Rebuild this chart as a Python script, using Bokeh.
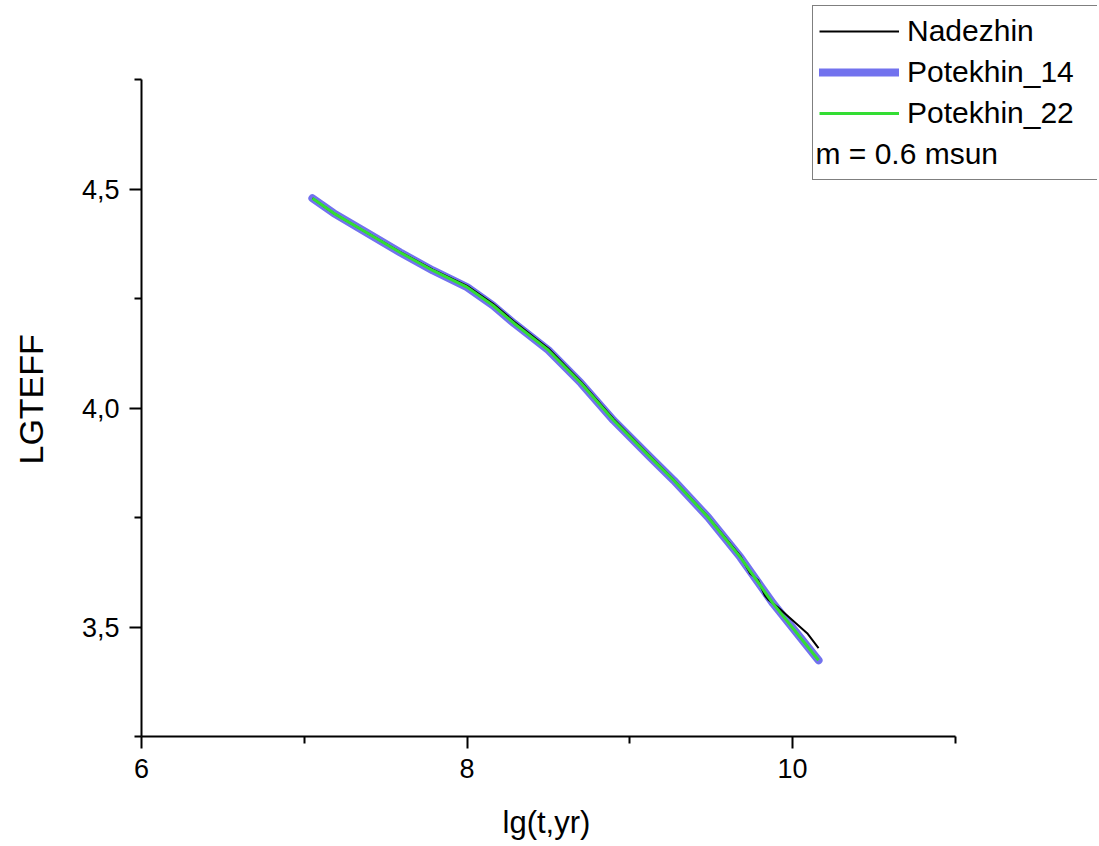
from bokeh.plotting import figure
from bokeh.models import (Range1d, FixedTicker, CustomJSTickFormatter, Legend,
                          LegendItem, Label, Title)
from bokeh.embed import file_html
from bokeh.resources import INLINE

# ---- data ----
nad_x = [7.05, 7.18, 7.39, 7.59, 7.79, 8.00, 8.16, 8.29, 8.50, 8.70, 8.90,
         9.13, 9.27, 9.48, 9.68, 9.74, 9.79, 9.83, 9.85, 9.91, 10.09, 10.16]
nad_y = [4.479, 4.445, 4.399, 4.356, 4.316, 4.279, 4.238, 4.197, 4.136,
         4.060, 3.975, 3.888, 3.836, 3.752, 3.662, 3.622, 3.606, 3.572,
         3.563, 3.545, 3.486, 3.452]

p14_x = [7.05, 7.18, 7.39, 7.59, 7.79, 8.00, 8.16, 8.29, 8.50, 8.70, 8.90,
         9.13, 9.27, 9.48, 9.68, 9.88, 10.16]
p14_y = [4.479, 4.445, 4.399, 4.355, 4.314, 4.276, 4.234, 4.193, 4.132,
         4.057, 3.972, 3.886, 3.835, 3.751, 3.659, 3.554, 3.424]

p22_x = [7.05, 7.18, 7.39, 7.59, 7.79, 8.00, 8.16, 8.29, 8.50, 8.70, 8.90,
         9.13, 9.27, 9.48, 9.68, 9.88, 10.16]
p22_y = [4.479, 4.445, 4.399, 4.355, 4.314, 4.276, 4.234, 4.193, 4.132,
         4.057, 3.972, 3.886, 3.835, 3.751, 3.659, 3.554, 3.424]

x_major = [6, 8, 10]
x_minor = [7, 9, 11]
y_major = [3.5, 4.0, 4.5]
y_minor = [3.25, 3.75, 4.25, 4.75]
x_bounds = (6, 11)
y_bounds = (3.25, 4.75)

series_names = ["Nadezhin", "Potekhin_14", "Potekhin_22"]
note_text = "m = 0.6 msun"
note_pos = (10.141, 4.5815)
x_title = "lg(t,yr)"
y_title = "LGTEFF"

FONT = "Liberation Sans"

# frame reaches to the top/right edges so the legend is not clipped;
# axis lines are limited to the reference's axis extents with `bounds`
FW, FH = 956, 734
PX_X = 162.75   # pixels per x unit
PX_Y = 438.0    # pixels per y unit
p = figure(frame_width=FW, frame_height=FH,
           x_range=Range1d(6, 6 + FW / PX_X),
           y_range=Range1d(3.25, 3.25 + FH / PX_Y),
           output_backend="svg", toolbar_location=None,
           min_border_left=141, min_border_top=2,
           min_border_right=0, min_border_bottom=110)
p.outline_line_color = None
p.xgrid.visible = False
p.ygrid.visible = False
p.background_fill_color = "white"
p.border_fill_color = "white"

r14 = p.line(p14_x, p14_y, line_color="#7272ee", line_width=8,
             line_cap="round", line_join="round")
rn = p.line(nad_x, nad_y, line_color="black", line_width=2)
r22 = p.line(p22_x, p22_y, line_color="#33dd33", line_width=3,
             line_join="round")
dummy = p.line([], [], line_alpha=0)

for ax in (p.xaxis[0], p.yaxis[0]):
    ax.axis_line_width = 2
    ax.axis_line_color = "black"
    ax.major_tick_line_width = 2
    ax.minor_tick_line_width = 2
    ax.major_tick_in = 0
    ax.major_tick_out = 12
    ax.minor_tick_in = 0
    ax.minor_tick_out = 7
    ax.major_label_text_font = FONT
    ax.major_label_text_font_size = "27px"
    ax.major_label_text_color = "black"
    # blank, tiny axis label used only as a spacer before the title panel
    ax.axis_label = " "
    ax.axis_label_text_font_size = "1px"

p.xaxis[0].bounds = x_bounds
p.yaxis[0].bounds = y_bounds
p.xaxis[0].ticker = FixedTicker(ticks=x_major, minor_ticks=x_minor)
p.yaxis[0].ticker = FixedTicker(ticks=y_major, minor_ticks=y_minor)
p.xaxis[0].formatter = CustomJSTickFormatter(code="return tick.toFixed(0);")
p.yaxis[0].formatter = CustomJSTickFormatter(
    code="return tick.toFixed(1).replace('.', ',');")
p.xaxis[0].major_label_standoff = 10
p.yaxis[0].major_label_standoff = 10
p.xaxis[0].axis_label_standoff = 20
p.yaxis[0].axis_label_standoff = 25

# axis titles as side-panel titles, so that they centre on the axis extent
p.add_layout(Title(text=x_title, align="left", offset=361, standoff=0,
                   vertical_align="top",
                   text_font=FONT, text_font_size="31px",
                   text_font_style="normal", text_color="black"), "below")
p.add_layout(Title(text=y_title, align="left", offset=272, standoff=0,
                   vertical_align="bottom",
                   text_font=FONT, text_font_size="34px",
                   text_font_style="normal", text_color="black"), "left")

legend = Legend(items=[
    LegendItem(label=series_names[0], renderers=[rn]),
    LegendItem(label=series_names[1], renderers=[r14]),
    LegendItem(label=series_names[2], renderers=[r22]),
    LegendItem(label=" ", renderers=[dummy]),
], location=(671, 556))
legend.label_text_font = FONT
legend.label_text_font_size = "30px"
legend.label_text_color = "black"
legend.label_height = 38
legend.glyph_height = 38
legend.glyph_width = 80
legend.label_standoff = 8
legend.label_width = 185
legend.spacing = 3
legend.padding = 6
legend.margin = 0
legend.border_line_color = "black"
legend.border_line_width = 1
legend.background_fill_color = "white"
legend.background_fill_alpha = 0
p.add_layout(legend, "center")

note = Label(x=note_pos[0], y=note_pos[1], text=note_text, text_font=FONT,
             text_font_size="30px", text_baseline="middle",
             text_color="black")
p.add_layout(note, "center")

open("out.html", "w").write(file_html(p, INLINE))
